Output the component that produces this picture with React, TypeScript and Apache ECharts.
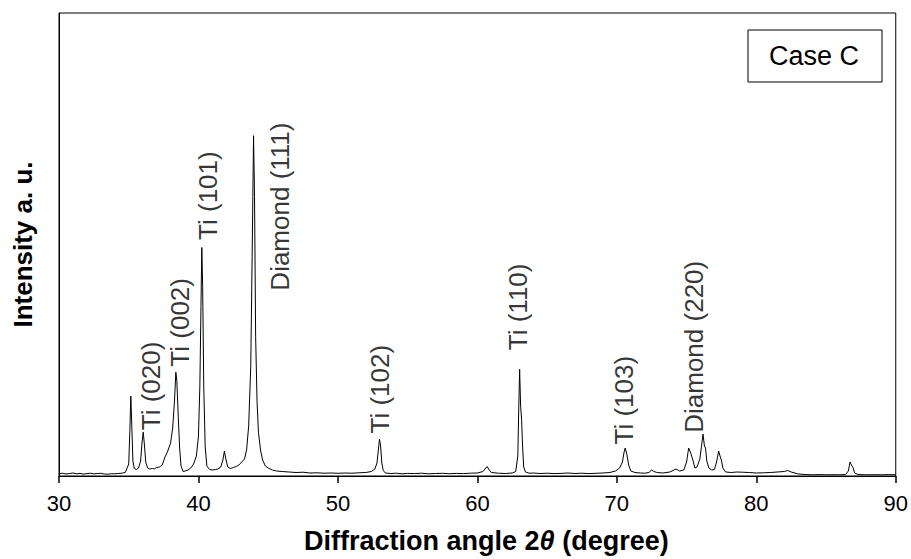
import React, { useEffect, useRef } from "react";
import * as echarts from "echarts";

const angles: number[] = [
  30.0, 30.25, 30.5, 30.75, 31.0, 31.25, 31.5, 31.75, 32.0, 32.25, 32.5, 32.75, 33.0, 33.25, 33.5, 33.75, 34.0, 34.25, 34.5, 34.75,
  35.0, 35.08, 35.15, 35.22, 35.3, 35.4, 35.55, 35.7, 35.85, 35.95, 36.04, 36.12, 36.22, 36.35, 36.5, 36.7, 36.85, 37.0, 37.2, 37.4,
  37.6, 37.8, 38.0, 38.15, 38.28, 38.38, 38.45, 38.55, 38.65, 38.75, 38.9, 39.05, 39.25, 39.45, 39.65, 39.85, 40.0, 40.1, 40.18, 40.24,
  40.3, 40.38, 40.48, 40.6, 40.8, 41.0, 41.2, 41.4, 41.6, 41.75, 41.86, 41.95, 42.1, 42.3, 42.5, 42.7, 42.9, 43.1, 43.3, 43.45,
  43.6, 43.75, 43.85, 43.95, 44.02, 44.1, 44.2, 44.3, 44.45, 44.6, 44.8, 45.0, 45.3, 45.6, 46.0, 46.5, 47.0, 47.5, 48.0, 48.5,
  49.0, 49.5, 50.0, 50.5, 51.0, 51.5, 52.0, 52.4, 52.65, 52.8, 52.9, 52.98, 53.06, 53.15, 53.25, 53.4, 53.8, 54.2, 54.6, 55.0,
  55.5, 56.0, 56.5, 57.0, 57.5, 58.0, 58.5, 59.0, 59.5, 60.0, 60.4, 60.6, 60.7, 60.85, 61.0, 61.5, 62.0, 62.5, 62.75, 62.9,
  62.97, 63.03, 63.1, 63.17, 63.24, 63.32, 63.45, 63.7, 64.0, 64.5, 65.0, 65.5, 66.0, 66.5, 67.0, 67.5, 68.0, 68.5, 69.0, 69.5,
  69.9, 70.2, 70.4, 70.52, 70.6, 70.7, 70.85, 71.0, 71.3, 71.7, 72.0, 72.3, 72.5, 72.65, 72.9, 73.3, 73.8, 74.1, 74.25, 74.5,
  74.8, 75.0, 75.15, 75.3, 75.45, 75.6, 75.75, 75.95, 76.1, 76.18, 76.28, 76.36, 76.45, 76.6, 76.8, 77.0, 77.15, 77.3, 77.42, 77.5,
  77.6, 77.8, 78.2, 78.6, 79.0, 79.5, 80.0, 80.5, 81.0, 81.5, 82.0, 82.25, 82.5, 83.0, 83.5, 84.0, 84.5, 85.0, 85.5, 86.0,
  86.4, 86.6, 86.72, 86.82, 86.95, 87.05, 87.3, 87.8, 88.5, 89.0, 89.5, 90.0,
];

const intensities: number[] = [
  22, 28, 20, 25, 30, 22, 26, 19, 24, 28, 21, 25, 27, 20, 18, 23, 22, 25, 28, 35,
  120, 450, 800, 500, 150, 75, 65, 80, 150, 330, 440, 320, 140, 80, 70, 75, 72, 85, 90, 110,
  190, 250, 330, 480, 750, 1040, 950, 600, 280, 100, 45, 50, 60, 80, 120, 200, 400, 900, 1700, 2290,
  1900, 900, 300, 100, 65, 60, 65, 70, 90, 160, 250, 180, 90, 75, 85, 95, 110, 140, 170, 260,
  500, 1100, 2200, 3410, 2800, 1400, 750, 440, 260, 160, 100, 80, 60, 50, 45, 40, 35, 38, 30, 32,
  28, 30, 27, 30, 28, 32, 35, 45, 70, 130, 260, 370, 300, 130, 55, 30, 25, 28, 22, 26,
  24, 28, 22, 25, 27, 23, 26, 24, 28, 30, 45, 80, 95, 60, 35, 28, 25, 30, 45, 200,
  700, 1070, 700, 570, 300, 90, 40, 28, 30, 25, 28, 24, 26, 30, 25, 28, 24, 27, 30, 35,
  50, 80, 140, 240, 280, 230, 110, 50, 35, 30, 28, 35, 60, 45, 35, 30, 40, 60, 70, 50,
  60, 140, 280, 230, 160, 80, 90, 170, 330, 420, 300, 280, 150, 80, 60, 65, 140, 250, 190, 160,
  80, 40, 35, 40, 38, 35, 30, 32, 35, 40, 45, 55, 40, 20, 15, 12, 14, 12, 13, 12,
  15, 50, 140, 110, 80, 30, 15, 12, 13, 12, 14, 12,
];

// Peak labels: text and anchor (angle, intensity)
const peakNames: string[] = [
  "Ti (020)", "Ti (002)", "Ti (101)", "Diamond (111)", "Ti (102)", "Ti (110)", "Ti (103)", "Diamond (220)",
];
const peakLabelAngles: number[] = [36.62, 38.66, 40.67, 45.87, 53.03, 62.93, 70.52, 75.54];
const peakLabelLevels: number[] = [903, 1540, 2810, 2700, 870, 1695, 760, 1295];

const xTicks: number[] = [30, 40, 50, 60, 70, 80, 90];

const FONT = '"Liberation Sans", Arial, Helvetica, sans-serif';

export default function App() {
  const ref = useRef<HTMLDivElement>(null);

  useEffect(() => {
    if (!ref.current) return;
    const chart = echarts.init(ref.current, null, { renderer: "svg" });
    const lineData = angles.map((a, i) => [a, intensities[i]]);
    const labelData = peakNames.map((n, i) => ({ name: n, value: [peakLabelAngles[i], peakLabelLevels[i]] }));

    chart.setOption({
      animation: false,
      backgroundColor: "#ffffff",
      grid: {
        left: 59,
        right: 14,
        top: 13,
        bottom: 82,
        show: true,
        borderColor: "#000",
        borderWidth: 1,
        backgroundColor: "transparent",
      },
      xAxis: {
        type: "value",
        min: xTicks[0],
        max: xTicks[xTicks.length - 1],
        interval: 10,
        axisLine: { show: true, onZero: false, lineStyle: { color: "#000", width: 1 } },
        axisTick: { show: true, inside: false, length: 7, lineStyle: { color: "#000", width: 1.5 } },
        axisLabel: { color: "#000", fontSize: 22, fontFamily: FONT, margin: 16 },
        splitLine: { show: false },
        name: "{b|Diffraction angle 2}{i|θ}{b| (degree)}",
        nameLocation: "middle",
        nameGap: 51,
        nameTextStyle: {
          padding: [0, 0, 0, 18],
          rich: {
            b: { fontSize: 27, fontWeight: "bold", fontFamily: FONT, color: "#000" },
            i: { fontSize: 27, fontWeight: "bold", fontStyle: "italic", fontFamily: FONT, color: "#000" },
          },
        },
      },
      yAxis: {
        type: "value",
        min: 0,
        max: 4640,
        axisLine: { show: true, lineStyle: { color: "#000", width: 1 } },
        axisTick: { show: false },
        axisLabel: { show: false },
        splitLine: { show: false },
        name: "Intensity a. u.",
        nameLocation: "middle",
        nameGap: 23,
        nameTextStyle: { fontSize: 26, fontWeight: "bold", fontFamily: FONT, color: "#000" },
      },
      graphic: [
        {
          type: "rect",
          shape: { x: 748, y: 30, width: 134, height: 52 },
          style: { fill: "#fff", stroke: "#000", lineWidth: 1 },
          z: 10,
        },
        {
          type: "text",
          x: 814,
          y: 56,
          style: {
            text: "Case C",
            fontSize: 27,
            fontFamily: FONT,
            fill: "#000",
            align: "center",
            verticalAlign: "middle",
          },
          z: 11,
        },
      ],
      series: [
        {
          type: "line",
          data: lineData,
          showSymbol: false,
          symbol: "none",
          lineStyle: { color: "#000", width: 1 },
          silent: true,
        },
        {
          type: "scatter",
          data: labelData,
          symbolSize: 0,
          silent: true,
          label: {
            show: true,
            position: "inside",
            formatter: (p: any) => p.name,
            rotate: 90,
            fontSize: 26,
            fontFamily: FONT,
            color: "#000",
            align: "center",
            verticalAlign: "middle",
          },
        },
      ],
    });
    return () => chart.dispose();
  }, []);

  return (
    <div
      ref={ref}
      style={{ position: "fixed", left: 0, top: 0, width: 911, height: 559, background: "#fff" }}
    />
  );
}
